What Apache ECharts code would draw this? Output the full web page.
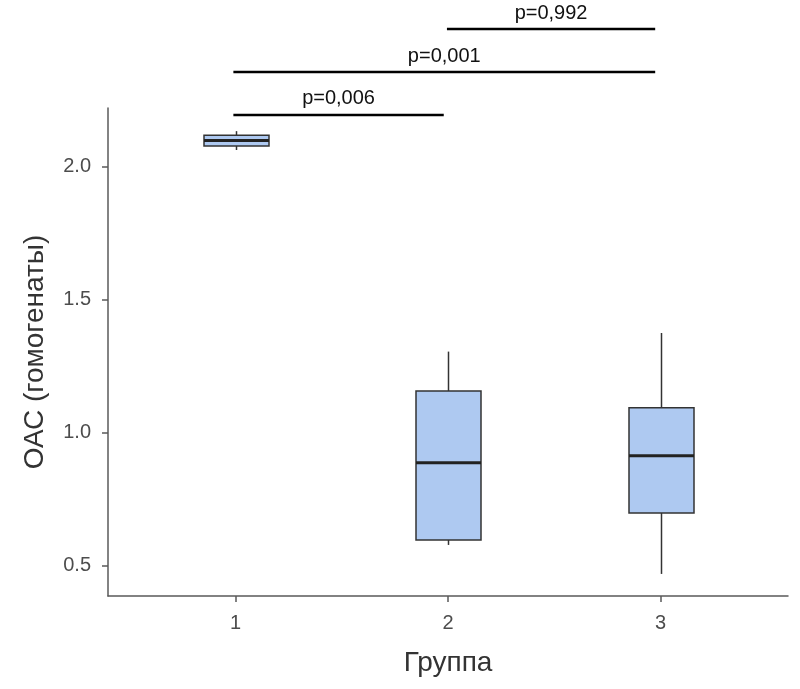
<!DOCTYPE html>
<html><head><meta charset="utf-8">
<script src="https://cdn.jsdelivr.net/npm/echarts@6/dist/echarts.min.js"></script>
<style>html,body{margin:0;padding:0;background:#fff}#c{width:800px;height:689px}</style>
</head><body><div id="c"></div>
<script>
const groups = ['1', '2', '3'];
const xPos = [1, 2, 3];
const whiskerLow = [2.062, 0.577, 0.468];
const q1 = [2.077, 0.596, 0.697];
const median = [2.098, 0.886, 0.912];
const q3 = [2.118, 1.156, 1.093];
const whiskerHigh = [2.133, 1.304, 1.374];
const yTicks = [0.5, 1.0, 1.5, 2.0];

const bracketStart = [0.99, 0.99, 1.995];
const bracketEnd = [1.98, 2.975, 2.975];
const bracketY = [2.194, 2.355, 2.517];
const bracketLabels = ['p=0,006', 'p=0,001', 'p=0,992'];

const FONT = "'Liberation Sans', Arial, sans-serif";
const boxData = xPos.map((x, i) => [x, whiskerLow[i], q1[i], median[i], q3[i], whiskerHigh[i]]);
const bracketData = bracketStart.map((s, i) => [s, bracketEnd[i], bracketY[i], bracketLabels[i]]);

const chart = echarts.init(document.getElementById('c'), null, {renderer: 'canvas'});
chart.setOption({
  animation: false,
  backgroundColor: '#fff',
  grid: {left: 108, right: 12, top: 108, bottom: 93, containLabel: false},
  xAxis: {
    type: 'value', min: 0.4, max: 3.6,
    name: 'Группа', nameLocation: 'middle', nameGap: 53,
    nameTextStyle: {fontFamily: FONT, fontSize: 28, color: '#333'},
    axisLine: {show: true, lineStyle: {color: '#5a5a5a', width: 1.5}},
    axisTick: {show: true, length: 6, customValues: xPos, lineStyle: {color: '#5a5a5a', width: 1.5}},
    axisLabel: {customValues: xPos, margin: 17, fontFamily: FONT, fontSize: 20, color: '#4d4d4d',
      formatter: v => groups[xPos.indexOf(Math.round(v))] || ''},
    splitLine: {show: false}
  },
  yAxis: {
    type: 'value', min: 0.385, max: 2.22,
    name: 'ОАС (гомогенаты)', nameLocation: 'middle', nameGap: 59,
    nameTextStyle: {fontFamily: FONT, fontSize: 28, color: '#333'},
    axisLine: {show: true, lineStyle: {color: '#5a5a5a', width: 1.5}},
    axisTick: {show: true, length: 6, customValues: yTicks, lineStyle: {color: '#5a5a5a', width: 1.5}},
    axisLabel: {customValues: yTicks, margin: 17, fontFamily: FONT, fontSize: 20, color: '#4d4d4d',
      formatter: v => v.toFixed(1)},
    splitLine: {show: false}
  },
  series: [
    {
      type: 'custom',
      clip: false,
      data: boxData,
      renderItem: function (params, api) {
        const x = api.value(0);
        const pLo = api.coord([x, api.value(1)]);
        const pQ1 = api.coord([x, api.value(2)]);
        const pMed = api.coord([x, api.value(3)]);
        const pQ3 = api.coord([x, api.value(4)]);
        const pHi = api.coord([x, api.value(5)]);
        const hw = 32.5;
        const cx = Math.round(pQ1[0]) + 0.5;
        const stroke = '#333333';
        return {
          type: 'group',
          children: [
            {type: 'line', shape: {x1: cx, y1: pHi[1], x2: cx, y2: pQ3[1]}, style: {stroke: stroke, lineWidth: 1.5}},
            {type: 'line', shape: {x1: cx, y1: pQ1[1], x2: cx, y2: pLo[1]}, style: {stroke: stroke, lineWidth: 1.5}},
            {type: 'rect', shape: {x: cx - hw, y: pQ3[1], width: hw * 2, height: pQ1[1] - pQ3[1]},
              style: {fill: '#aec9f1', stroke: stroke, lineWidth: 1.5}},
            {type: 'line', shape: {x1: cx - hw, y1: pMed[1], x2: cx + hw, y2: pMed[1]}, style: {stroke: '#222', lineWidth: 3}}
          ]
        };
      }
    },
    {
      type: 'custom',
      clip: false,
      data: bracketData,
      renderItem: function (params, api) {
        const a = api.coord([api.value(0), api.value(2)]);
        const b = api.coord([api.value(1), api.value(2)]);
        const label = bracketLabels[params.dataIndex];
        return {
          type: 'group',
          children: [
            {type: 'line', shape: {x1: a[0], y1: a[1], x2: b[0], y2: b[1]}, style: {stroke: '#000', lineWidth: 2.5}},
            {type: 'text', style: {text: label, x: (a[0] + b[0]) / 2, y: a[1] - 6, align: 'center', verticalAlign: 'bottom',
              fontFamily: FONT, fontSize: 20, fill: '#111'}}
          ]
        };
      }
    }
  ]
});
</script>
</body></html>
